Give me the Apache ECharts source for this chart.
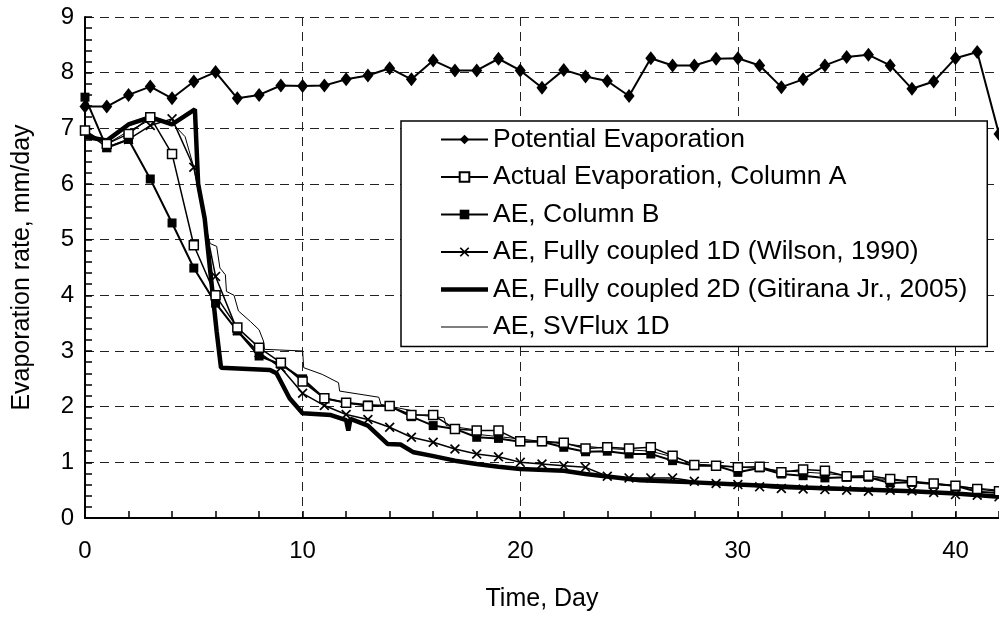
<!DOCTYPE html>
<html>
<head>
<meta charset="utf-8">
<script src="https://cdn.jsdelivr.net/npm/echarts@6/dist/echarts.min.js"></script>
<style>
html,body{margin:0;padding:0;background:#fff;}
#chart{width:999px;height:617px;}
</style>
</head>
<body>
<div id="chart"></div>
<script>
const days = [0,1,2,3,4,5,6,7,8,9,10,11,12,13,14,15,16,17,18,19,20,21,22,23,24,25,26,27,28,29,30,31,32,33,34,35,36,37,38,39,40,41,42];
const potential = [7.39,7.39,7.6,7.75,7.54,7.84,8.01,7.54,7.6,7.77,7.76,7.77,7.88,7.95,8.08,7.88,8.22,8.04,8.04,8.25,8.04,7.73,8.05,7.93,7.85,7.58,8.26,8.13,8.13,8.25,8.26,8.13,7.74,7.88,8.13,8.28,8.32,8.13,7.71,7.84,8.26,8.37,6.9];
const columnA = [6.96,6.72,6.9,7.2,6.54,4.9,4.0,3.42,3.06,2.79,2.45,2.15,2.07,2.01,2.01,1.85,1.85,1.6,1.57,1.57,1.38,1.38,1.35,1.25,1.27,1.25,1.27,1.12,0.95,0.94,0.91,0.92,0.82,0.87,0.85,0.75,0.76,0.7,0.66,0.62,0.58,0.52,0.48];
const columnB = [7.56,6.65,6.8,6.09,5.3,4.49,3.86,3.36,2.91,2.76,2.5,2.15,2.07,2.03,2.01,1.82,1.66,1.6,1.45,1.43,1.37,1.37,1.27,1.19,1.2,1.15,1.15,1.03,0.94,0.94,0.82,0.9,0.79,0.76,0.72,0.73,0.73,0.63,0.64,0.61,0.58,0.47,0.45];
const wilson = [6.95,6.66,6.8,7.05,7.17,6.3,4.34,3.37,2.97,2.7,2.24,2.02,1.86,1.77,1.63,1.45,1.36,1.24,1.15,1.1,1.0,0.97,0.94,0.91,0.75,0.72,0.72,0.72,0.66,0.62,0.6,0.56,0.53,0.52,0.51,0.5,0.48,0.5,0.49,0.46,0.42,0.41,0.38];
const gitiranaDays = [0,1,2,3,4,5.05,5.2,5.5,5.95,6.05,6.25,8.5,8.8,9.4,10.0,11.3,12.0,12.1,12.2,13.0,13.9,14.5,15.1,15.9,17,18,19,20,22,23,25.5,28,30,33,35,38,40,42];
const gitiranaValues = [6.85,6.78,7.07,7.2,7.07,7.34,6.0,5.38,3.72,3.35,2.7,2.66,2.6,2.15,1.88,1.85,1.76,1.57,1.78,1.66,1.33,1.32,1.18,1.12,1.03,0.97,0.92,0.88,0.85,0.79,0.68,0.64,0.6,0.55,0.52,0.48,0.44,0.38];
const svfluxDays = [0,1,2,3,4,4.6,5.0,5.5,5.75,6.05,6.2,6.45,6.5,6.85,7.05,7.6,8.0,8.2,8.25,10.0,10.05,10.9,11.65,11.7,13.5,13.6,15.0,15.1,16.5,16.6,18,18.1,20,22,24,26,27,28,30,32,34,36,38,40,42];
const svfluxValues = [6.95,6.72,6.95,7.15,7.1,6.85,6.3,5.3,4.93,4.88,4.49,4.37,4.07,4.0,3.72,3.53,3.38,3.18,3.03,3.0,2.7,2.58,2.43,2.28,2.17,2.04,1.93,1.86,1.8,1.66,1.58,1.5,1.42,1.33,1.25,1.2,1.1,0.97,0.92,0.85,0.8,0.72,0.65,0.57,0.5];
const seriesNames = ['Potential Evaporation','Actual Evaporation, Column A','AE, Column B','AE, Fully coupled 1D (Wilson, 1990)','AE, Fully coupled 2D (Gitirana Jr., 2005)','AE, SVFlux 1D'];
const xTitle = 'Time, Day';
const yTitle = 'Evaporation rate, mm/day';

const FONT = '"Liberation Sans", Arial, sans-serif';
const pair = (xs, ys) => xs.map((x, i) => [x, ys[i]]);
const crossPath = 'path://M0,1.2L1.2,0L5,3.8L8.8,0L10,1.2L6.2,5L10,8.8L8.8,10L5,6.2L1.2,10L0,8.8L3.8,5Z';
const thickIcon = 'path://M0,0L0.01,0L0.01,0.01Z M0,3.8H47V8.2H0Z M0,12L0.01,12L0.01,11.99Z';
const thinIcon = 'path://M0,0L0.01,0L0.01,0.01Z M0,5.5H47V6.5H0Z M0,12L0.01,12L0.01,11.99Z';

const chart = echarts.init(document.getElementById('chart'), null, {renderer: 'canvas'});
chart.setOption({
  animation: false,
  backgroundColor: '#fff',
  grid: {left: 85, top: 17, right: -5, bottom: 96},
  xAxis: {
    type: 'value', min: 0, max: 42, interval: 10,
    name: xTitle, nameLocation: 'middle', nameGap: 69,
    nameTextStyle: {fontFamily: FONT, fontSize: 25, color: '#000'},
    axisLine: {show: true, onZero: false, lineStyle: {color: '#000', width: 2}},
    axisTick: {show: true, inside: true, length: 7, lineStyle: {color: '#000', width: 1.5}},
    minorTick: {show: true, splitNumber: 5, length: 7, lineStyle: {color: '#000', width: 1.5}},
    axisLabel: {fontFamily: FONT, fontSize: 24, color: '#000', margin: 21, showMaxLabel: false},
    splitLine: {show: true, lineStyle: {color: '#222', width: 1, type: [9, 6]}}
  },
  yAxis: {
    type: 'value', min: 0, max: 9, interval: 1,
    name: yTitle, nameLocation: 'middle', nameGap: 50, nameRotate: 90,
    nameTextStyle: {fontFamily: FONT, fontSize: 25, color: '#000'},
    axisLine: {show: true, onZero: false, lineStyle: {color: '#000', width: 2}},
    axisTick: {show: true, inside: true, length: 7, lineStyle: {color: '#000', width: 1.5}},
    minorTick: {show: true, splitNumber: 5, length: 7, lineStyle: {color: '#000', width: 1.5}},
    axisLabel: {fontFamily: FONT, fontSize: 24, color: '#000', margin: 11},
    splitLine: {show: true, lineStyle: {color: '#222', width: 1, type: [9, 6]}}
  },
  legend: {
    orient: 'vertical', left: 401, top: 121,
    padding: [5, 20, 6, 39], itemGap: 10.5, itemWidth: 47, itemHeight: 12,
    backgroundColor: '#fff', borderColor: '#000', borderWidth: 1.5, borderRadius: 0,
    textStyle: {fontFamily: FONT, fontSize: 26.5, color: '#000'},
    data: [
      {name: seriesNames[0]},
      {name: seriesNames[1]},
      {name: seriesNames[2]},
      {name: seriesNames[3]},
      {name: seriesNames[4], icon: thickIcon},
      {name: seriesNames[5], icon: thinIcon}
    ]
  },
  series: [
    {
      name: seriesNames[5], type: 'line', data: pair(svfluxDays, svfluxValues),
      symbol: 'none', z: 2,
      lineStyle: {color: '#000', width: 1}, itemStyle: {color: '#000'}
    },
    {
      name: seriesNames[4], type: 'line', data: pair(gitiranaDays, gitiranaValues),
      symbol: 'none', z: 3,
      lineStyle: {color: '#000', width: 4.5}, itemStyle: {color: '#000'}
    },
    {
      name: seriesNames[3], type: 'line', data: pair(days, wilson),
      symbol: crossPath, symbolSize: 10, z: 4,
      lineStyle: {color: '#000', width: 1.5}, itemStyle: {color: '#000'}
    },
    {
      name: seriesNames[2], type: 'line', data: pair(days, columnB),
      symbol: 'rect', symbolSize: 9, z: 5,
      lineStyle: {color: '#000', width: 2}, itemStyle: {color: '#000'}
    },
    {
      name: seriesNames[1], type: 'line', data: pair(days, columnA),
      symbol: 'rect', symbolSize: 9, z: 6,
      lineStyle: {color: '#000', width: 1.5}, itemStyle: {color: '#fff', borderColor: '#000', borderWidth: 1.5}
    },
    {
      name: seriesNames[0], type: 'line', data: pair(days, potential),
      symbol: 'diamond', symbolSize: [11, 14], z: 7,
      lineStyle: {color: '#000', width: 2}, itemStyle: {color: '#000'}
    }
  ]
});
</script>
</body>
</html>
